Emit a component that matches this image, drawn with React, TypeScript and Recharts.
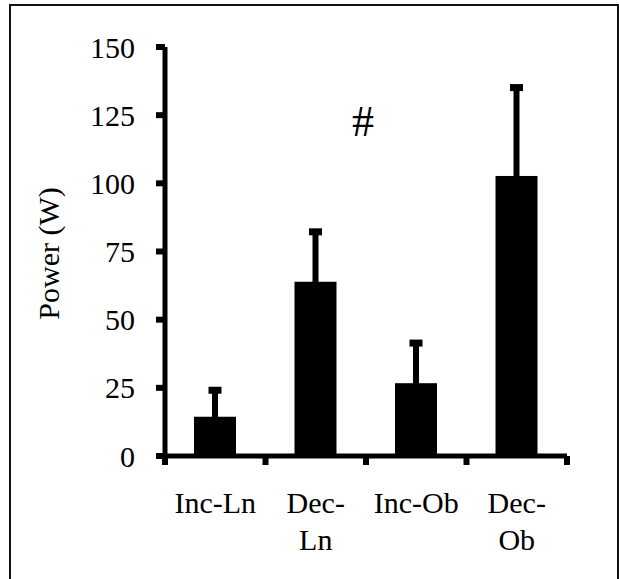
import { BarChart, Bar, XAxis, YAxis } from 'recharts';

// --- Data ---
const categories = ['Inc-Ln', 'Dec-Ln', 'Inc-Ob', 'Dec-Ob'];
const labelLines = [['Inc-Ln'], ['Dec-', 'Ln'], ['Inc-Ob'], ['Dec-', 'Ob']];
const powerMean = [14.4, 63.9, 26.7, 102.7];
const powerSd = [9.9, 18.5, 14.9, 32.6];
const yTicks = [0, 25, 50, 75, 100, 125, 150];

const data = categories.map((name, i) => ({
  name,
  power: powerMean[i],
  sd: powerSd[i],
}));

// --- Layout ---
const W = 619;
const H = 579;
const MARGIN = { top: 47, right: 52, left: 0, bottom: 0 };
const Y_AXIS_W = 165;
const PLOT_W = W - Y_AXIS_W - MARGIN.right;
const FONT = "'Liberation Serif', 'Times New Roman', serif";

// bar + upper-only error whisker (px per unit taken from the bar's own scaled height)
function BarWithSd(props: any) {
  const { x, y, width, height, payload } = props;
  if (!payload || !payload.power) return null;
  const pxPerUnit = height / payload.power;
  const top = y - payload.sd * pxPerUnit;
  const cx = x + width / 2;
  return (
    <g>
      <rect x={x} y={y} width={width} height={height} fill="#000" />
      <rect x={cx - 3} y={top} width={6} height={y - top + 1} fill="#000" />
      <rect x={cx - 6.5} y={top - 3} width={13} height={7} fill="#000" />
    </g>
  );
}

function XTick(props: any) {
  const { x, y, index } = props;
  const band = PLOT_W / categories.length;
  const lines = labelLines[index] || [];
  return (
    <g>
      <rect x={x - band / 2 - 3} y={y} width={6} height={9} fill="#000" />
      {index === categories.length - 1 && (
        <rect x={x + band / 2 - 3} y={y} width={6} height={9} fill="#000" />
      )}
      <text x={x} y={y + 57} textAnchor="middle" fontFamily={FONT} fontSize={30} fill="#000">
        {lines.map((l: string, i: number) => (
          <tspan key={i} x={x} dy={i === 0 ? 0 : 37}>
            {l}
          </tspan>
        ))}
      </text>
    </g>
  );
}

export default function App() {
  return (
    <div
      style={{
        position: 'fixed',
        left: 0,
        top: 0,
        width: W,
        height: H,
        overflow: 'hidden',
        background: '#fff',
      }}
    >
      <div
        style={{
          position: 'absolute',
          left: 9,
          top: 4,
          width: 606,
          height: 620,
          border: '2px solid #111',
        }}
      />
      <div
        style={{
          position: 'absolute',
          left: 343,
          top: 97,
          width: 40,
          textAlign: 'center',
          fontFamily: FONT,
          fontSize: 44,
          lineHeight: '50px',
          color: '#000',
        }}
      >
        #
      </div>
      <div style={{ position: 'absolute', left: 0, top: 0 }}>
        <BarChart width={W} height={H} data={data} margin={MARGIN}>
          <XAxis
            dataKey="name"
            interval={0}
            height={H - MARGIN.top - 409}
            axisLine={{ stroke: '#000', strokeWidth: 5 }}
            tickLine={false}
            tickSize={0}
            tickMargin={0}
            tick={<XTick />}
          />
          <YAxis
            width={Y_AXIS_W}
            domain={[0, 150]}
            ticks={yTicks}
            interval={0}
            axisLine={{ stroke: '#000', strokeWidth: 5 }}
            tickLine={{ stroke: '#000', strokeWidth: 6 }}
            tickSize={9}
            tickMargin={21}
            tick={{ fill: '#000', fontSize: 30, fontFamily: FONT }}
            label={{
              content: (p: any) => {
                const vb = p.viewBox || { x: 0, y: MARGIN.top, height: 409 };
                const cx = 48;
                const cy = vb.y + vb.height / 2 + 2;
                return (
                  <text
                    x={cx}
                    y={cy}
                    transform={`rotate(-90, ${cx}, ${cy})`}
                    textAnchor="middle"
                    dominantBaseline="central"
                    fontFamily={FONT}
                    fontSize={30}
                    fill="#000"
                  >
                    Power (W)
                  </text>
                );
              },
            }}
          />
          <Bar
            dataKey="power"
            fill="#000"
            barSize={42}
            shape={<BarWithSd />}
            isAnimationActive={false}
          />
        </BarChart>
      </div>
    </div>
  );
}
